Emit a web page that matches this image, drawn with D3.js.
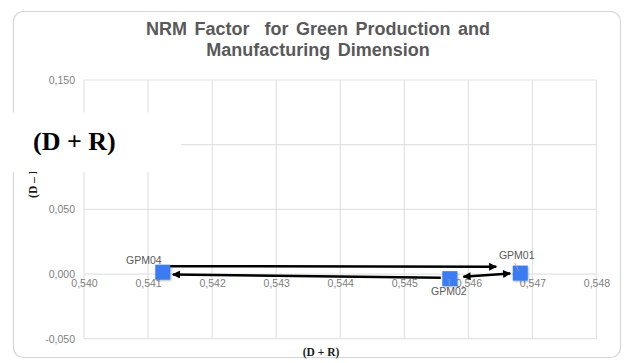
<!DOCTYPE html>
<html>
<head>
<meta charset="utf-8">
<script src="https://cdn.jsdelivr.net/npm/d3@7/dist/d3.min.js"></script>
<style>
  html, body { margin: 0; padding: 0; background: #fff; }
  svg { display: block; }
</style>
</head>
<body>
<svg id="chart" width="625" height="363"></svg>
<script>
// NRM factor scatter: prominence (D + R) against relation (D - R)
const factors  = ["GPM01", "GPM02", "GPM04"];
const dPlusR   = [0.54681, 0.54571, 0.54123];
const dMinusR  = [0.0007, -0.0036, 0.0014];

// Influence arrows between factors
const linkFrom  = ["GPM04", "GPM02", "GPM02"];
const linkTo    = ["GPM01", "GPM04", "GPM01"];
const linkBoth  = [false, false, true];

const xTicks = [0.540, 0.541, 0.542, 0.543, 0.544, 0.545, 0.546, 0.547, 0.548];
const yTicks = [-0.050, 0.000, 0.050, 0.100, 0.150];
const titleLines = ["NRM Factor  for Green Production and", "Manufacturing Dimension"];
const xTitle = "(D + R)";
const yTitle = "(D \u2013 R)";

const fmt = v => d3.format(".3f")(v).replace(".", ",").replace("\u2212", "-");

const svg = d3.select("#chart");

// card
svg.append("rect")
  .attr("x", 13.5).attr("y", 11.5).attr("width", 607).attr("height", 346)
  .attr("rx", 10).attr("fill", "#fff").attr("stroke", "#d6d6d6").attr("stroke-width", 1.2);

const x = d3.scaleLinear().domain([0.540, 0.548]).range([84, 596.5]);
const y = d3.scaleLinear().domain([-0.050, 0.150]).range([338.7, 80]);

// gridlines
const grid = svg.append("g");
grid.selectAll("line.v").data(xTicks).join("line")
  .attr("x1", d => x(d)).attr("x2", d => x(d))
  .attr("y1", y(0.150)).attr("y2", y(-0.050))
  .attr("stroke", "#e3e3e3").attr("stroke-width", 1.2);
grid.selectAll("line.h").data(yTicks).join("line")
  .attr("x1", x(0.540)).attr("x2", x(0.548))
  .attr("y1", d => y(d)).attr("y2", d => y(d))
  .attr("stroke", "#e3e3e3").attr("stroke-width", 1.2);

// y tick labels (the one under the caption block is left out)
const yAxis = d3.axisLeft(y).tickValues(yTicks.filter(v => v !== 0.100))
  .tickFormat(fmt).tickSize(0).tickPadding(9);
const gy = svg.append("g").attr("transform", `translate(${x(0.540)},0)`).call(yAxis);
gy.select(".domain").remove();
gy.selectAll("text").attr("font-family", "Liberation Sans, Arial, sans-serif")
  .attr("font-size", 10.5).attr("fill", "#808080");

// x tick labels along the zero line
const xAxis = d3.axisBottom(x).tickValues(xTicks).tickFormat(fmt).tickSize(0).tickPadding(6);
const gx = svg.append("g").attr("transform", `translate(0,${y(0)})`).call(xAxis);
gx.select(".domain").remove();
gx.selectAll("text").attr("font-family", "Liberation Sans, Arial, sans-serif")
  .attr("font-size", 10.5).attr("fill", "#808080");

// title
svg.append("text")
  .attr("x", 318).attr("y", 35).attr("text-anchor", "middle")
  .attr("font-family", "Liberation Sans, Arial, sans-serif").attr("font-weight", "bold")
  .attr("font-size", 18).attr("word-spacing", 2.5).attr("fill", "#595959").style("white-space", "pre")
  .selectAll("tspan").data(titleLines).join("tspan")
  .attr("x", 318).attr("dy", (d, i) => i === 0 ? 0 : 21).text(d => d);

// axis titles
svg.append("text")
  .attr("x", 321).attr("y", 356).attr("text-anchor", "middle")
  .attr("font-family", "Liberation Serif, Times New Roman, serif").attr("font-weight", "bold")
  .attr("font-size", 11.5).attr("fill", "#1a1a1a").text(xTitle);
svg.append("text")
  .attr("transform", "translate(37,180) rotate(-90)").attr("text-anchor", "middle")
  .attr("font-family", "Liberation Serif, Times New Roman, serif").attr("font-weight", "bold")
  .attr("font-size", 11.5).attr("fill", "#1a1a1a").text(yTitle);

// caption block overlaying the upper-left corner
svg.append("rect").attr("x", 0).attr("y", 112.5).attr("width", 181).attr("height", 59.5).attr("fill", "#fff");
svg.append("text")
  .attr("x", 33).attr("y", 150)
  .attr("font-family", "Liberation Serif, Times New Roman, serif").attr("font-weight", "bold")
  .attr("font-size", 26).attr("fill", "#000").text(xTitle);

// arrowheads
const defs = svg.append("defs");
defs.append("marker").attr("id", "head").attr("viewBox", "0 0 10 10")
  .attr("refX", 9).attr("refY", 5).attr("markerWidth", 3.6).attr("markerHeight", 3.2)
  .attr("orient", "auto-start-reverse").attr("markerUnits", "strokeWidth")
  .append("path").attr("d", "M0,0 L10,5 L0,10 Z").attr("fill", "#000");
const shadow = defs.append("filter").attr("id", "shadow").attr("x", "-30%").attr("y", "-30%")
  .attr("width", "160%").attr("height", "160%");
shadow.append("feDropShadow").attr("dx", 0.8).attr("dy", 1).attr("stdDeviation", 1)
  .attr("flood-color", "#000").attr("flood-opacity", 0.3);

const pos = {};
factors.forEach((f, i) => { pos[f] = [x(dPlusR[i]), y(dMinusR[i])]; });

// where each arrow leaves and meets its factor marker
const linkEnds = [
  { s: [7, -6], t: [-24, -6.3] },
  { s: [-9, -1], t: [10, 2.2] },
  { s: [13.6, -2], t: [-10, 0.3] }
];

svg.append("g").selectAll("line").data(linkFrom).join("line")
  .attr("x1", (d, i) => pos[d][0] + linkEnds[i].s[0])
  .attr("y1", (d, i) => pos[d][1] + linkEnds[i].s[1])
  .attr("x2", (d, i) => pos[linkTo[i]][0] + linkEnds[i].t[0])
  .attr("y2", (d, i) => pos[linkTo[i]][1] + linkEnds[i].t[1])
  .attr("stroke", "#000").attr("stroke-width", 2.5)
  .attr("marker-end", "url(#head)")
  .attr("marker-start", (d, i) => linkBoth[i] ? "url(#head)" : null);

// factor markers
const side = 15;
svg.append("g").selectAll("rect").data(factors).join("rect")
  .attr("x", d => pos[d][0] - side / 2).attr("y", d => pos[d][1] - side / 2)
  .attr("width", side).attr("height", side)
  .attr("fill", "#3b7cf2").attr("filter", "url(#shadow)");

// labels with leader lines
const labelOffset = { GPM01: [-3.5, -14], GPM02: [-1, 16.5], GPM04: [-19, -8] };
svg.append("g").selectAll("text").data(factors).join("text")
  .attr("x", d => pos[d][0] + labelOffset[d][0])
  .attr("y", d => pos[d][1] + labelOffset[d][1])
  .attr("text-anchor", "middle")
  .attr("font-family", "Liberation Sans, Arial, sans-serif")
  .attr("font-size", 10.5).attr("fill", "#595959").text(d => d);

const leaders = { GPM01: [[-5.5, -10], [-1.5, -2]], GPM02: [[-0.5, 0.5], [-0.5, 6.5]] };
svg.append("g").selectAll("line").data(Object.keys(leaders)).join("line")
  .attr("x1", d => pos[d][0] + leaders[d][0][0]).attr("y1", d => pos[d][1] + leaders[d][0][1])
  .attr("x2", d => pos[d][0] + leaders[d][1][0]).attr("y2", d => pos[d][1] + leaders[d][1][1])
  .attr("stroke", "#9aa4b4").attr("stroke-width", 0.8);
</script>
</body>
</html>
